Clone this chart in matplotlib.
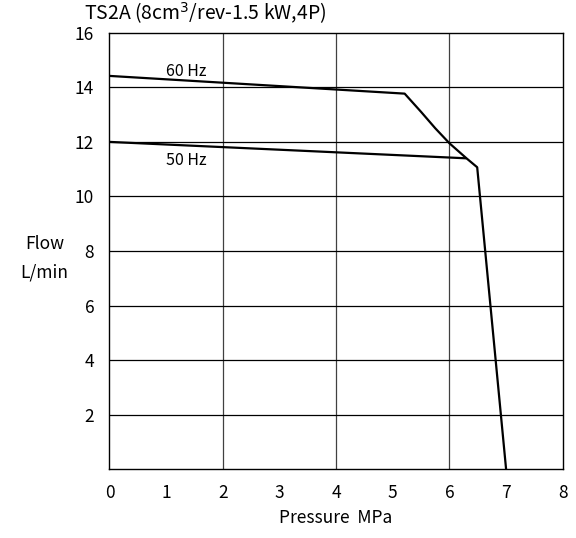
import matplotlib
matplotlib.use("Agg")
import matplotlib.pyplot as plt

plt.rcParams["font.family"] = ["Noto Sans CJK JP", "DejaVu Sans"]

# curve data
p60 = [0.0, 5.21, 5.5, 5.75, 6.0, 6.3, 6.49, 7.0]
q60 = [14.42, 13.77, 13.1, 12.5, 11.95, 11.4, 11.07, 0.0]
p50 = [0.0, 6.28]
q50 = [12.0, 11.4]

xticks = [0, 1, 2, 3, 4, 5, 6, 7, 8]
yticks = [2, 4, 6, 8, 10, 12, 14, 16]
xgrid = [2, 4, 6]
ygrid = [2, 4, 6, 8, 10, 12, 14]

fig = plt.figure(figsize=(5.76, 5.38), dpi=100)
ax = fig.add_axes([0.190, 0.128, 0.787, 0.811])

for x in xgrid:
    ax.axvline(x, color="0.25", lw=0.9)
for y in ygrid:
    ax.axhline(y, color="black", lw=0.9)

ax.plot(p60, q60, color="black", lw=1.6)
ax.plot(p50, q50, color="black", lw=1.6)

ax.text(1.0, 14.4, "60 Hz", fontsize=11.5)
ax.text(1.0, 11.15, "50 Hz", fontsize=11.5)

ax.set_xlim(0, 8)
ax.set_ylim(0, 16)
ax.set_xticks(xticks)
ax.set_yticks(yticks)
ax.tick_params(length=0, labelsize=12.5, pad=11)
for s in ax.spines.values():
    s.set_linewidth(1.0)

ax.set_xlabel("Pressure  MPa", fontsize=12.5, labelpad=5)
fig.text(0.077, 0.52, "Flow\nL/min", fontsize=12.5, ha="center", va="center",
         linespacing=1.7)
ax.text(-0.45, 16.25, "TS2A (8cm$^3$/rev-1.5 kW,4P)", fontsize=14,
        ha="left", va="bottom")

plt.savefig("out.png", dpi=100)
plt.close()
